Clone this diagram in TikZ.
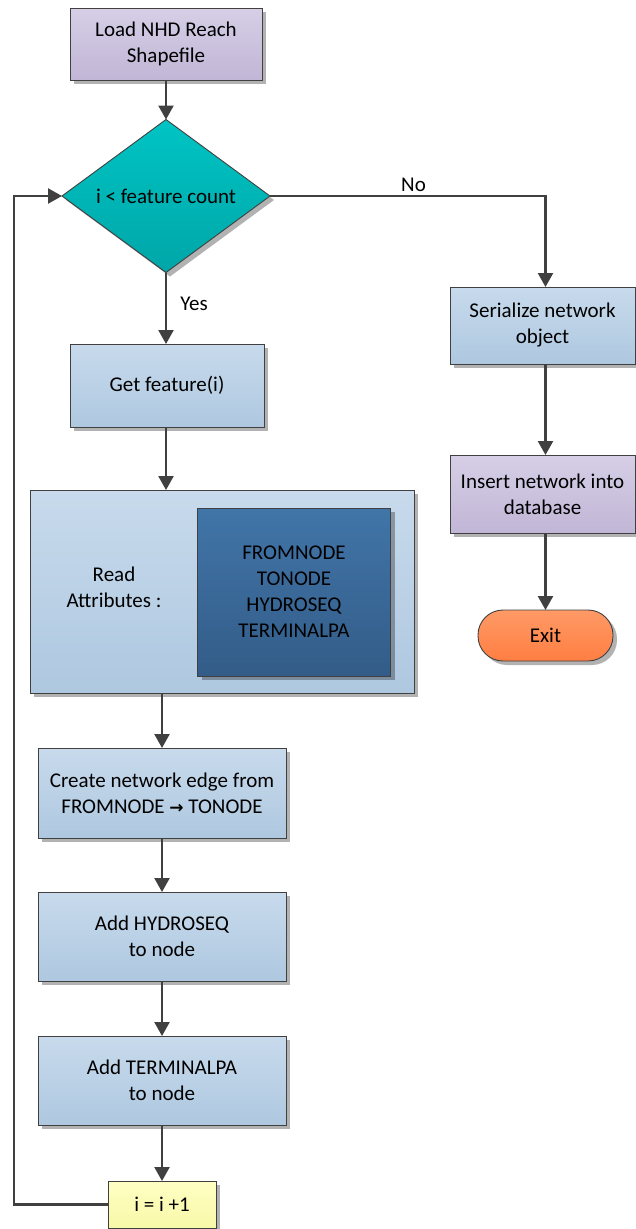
\documentclass[tikz,border=0pt]{standalone}
\usepackage{fontspec}
\setmainfont{Carlito}
\newfontfamily\symfont{DejaVu Sans}
\usetikzlibrary{shapes.geometric,arrows.meta,shadows}

\definecolor{edge}{HTML}{404040}
\definecolor{purpleA}{HTML}{D6CFE6}
\definecolor{purpleB}{HTML}{C1B6D6}
\definecolor{blueA}{HTML}{C8DAEC}
\definecolor{blueB}{HTML}{AEC8E0}
\definecolor{darkA}{HTML}{4175A8}
\definecolor{darkB}{HTML}{335C88}
\definecolor{tealA}{HTML}{00C4C4}
\definecolor{tealB}{HTML}{00A6A8}
\definecolor{orangeA}{HTML}{FF9A66}
\definecolor{orangeB}{HTML}{FF7E42}
\definecolor{yellowA}{HTML}{FFFFC4}
\definecolor{yellowB}{HTML}{F8F8A8}

\tikzset{
  base/.style={draw=edge, line width=0.9pt, inner sep=0pt, outer sep=0pt,
    align=center, font=\fontsize{21}{26}\selectfont,
    drop shadow={shadow xshift=4pt, shadow yshift=-4pt, opacity=0.3, fill=black}},
  purplebox/.style={base, rectangle, top color=purpleA, bottom color=purpleB},
  bluebox/.style={base, rectangle, top color=blueA, bottom color=blueB},
  darkbox/.style={base, rectangle, top color=darkA, bottom color=darkB},
  yellowbox/.style={base, rectangle, top color=yellowA, bottom color=yellowB},
  decision/.style={base, diamond, shape aspect=1.36, top color=tealA, bottom color=tealB},
  terminal/.style={base, rectangle, rounded corners=25pt, top color=orangeA, bottom color=orangeB},
  flow/.style={draw=edge, line width=2.4pt, -{Triangle[width=15pt,length=14pt]}},
  lbl/.style={font=\fontsize{21}{26}\selectfont}
}

\begin{document}
\begin{tikzpicture}[x=1pt,y=-1pt]
  \useasboundingbox (0,0) rectangle (636,1229);

  % main column
  \node[purplebox, minimum width=192pt, minimum height=72pt] (load) at (166,44) {Load NHD Reach\\Shapefile};
  \node[decision, minimum width=208pt, minimum height=153pt] (test) at (166,196) {i < feature count};
  \node[bluebox, minimum width=194pt, minimum height=83pt] (getf) at (167,385.5) {Get feature(i)};
  \node[bluebox, minimum width=384pt, minimum height=203pt] (read) at (222,591.5) {};
  \node[lbl, align=center, anchor=center] (readtxt) at (114,587) {Read\\Attributes :};
  \node[darkbox, minimum width=193pt, minimum height=168pt] (attrs) at (294,592) {FROMNODE\\TONODE\\HYDROSEQ\\TERMINALPA};
  \node[bluebox, minimum width=248pt, minimum height=90pt] (create) at (162,793) {Create network edge from\\FROMNODE {\symfont\bfseries\fontsize{17}{26}\selectfont →} TONODE};
  \node[bluebox, minimum width=248pt, minimum height=89pt] (hydro) at (162,936.5) {Add HYDROSEQ\\to node};
  \node[bluebox, minimum width=248pt, minimum height=89pt] (term) at (162,1080.5) {Add TERMINALPA\\to node};
  \node[yellowbox, minimum width=108pt, minimum height=47pt] (incr) at (162,1204.5) {i = i +1};

  % right column
  \node[bluebox, minimum width=185pt, minimum height=77pt] (serial) at (542.5,325.5) {Serialize network\\object};
  \node[purplebox, minimum width=185pt, minimum height=78pt] (insert) at (542.5,494) {Insert network into\\database};
  \node[terminal, minimum width=135pt, minimum height=51pt] (exit) at (545.5,635.5) {Exit};

  % loop corner
  \coordinate (loopbl) at (14,1204.5);
  \coordinate (looptl) at (14,196);

  % connectors
  \draw[flow] (load) -- (test);
  \draw[flow] (test.south) -- (getf.north -| test.south);
  \draw[flow] (getf.south -| test.south) -- (read.north -| test.south);
  \draw[flow] (read.south -| create) -- (create);
  \draw[flow] (create) -- (hydro);
  \draw[flow] (hydro) -- (term);
  \draw[flow] (term) -- (incr);
  \draw[flow] (incr.west) -- (loopbl) -- (looptl) -- (test.west);
  \draw[flow] (test.east) -| (serial.north -| exit) node[lbl, pos=0.5, anchor=south, xshift=-132pt] {No};
  \draw[flow] (serial.south -| exit) -- (insert.north -| exit);
  \draw[flow] (insert.south -| exit) -- (exit);

  \node[lbl] (yes) at (194,304) {Yes};
\end{tikzpicture}
\end{document}
